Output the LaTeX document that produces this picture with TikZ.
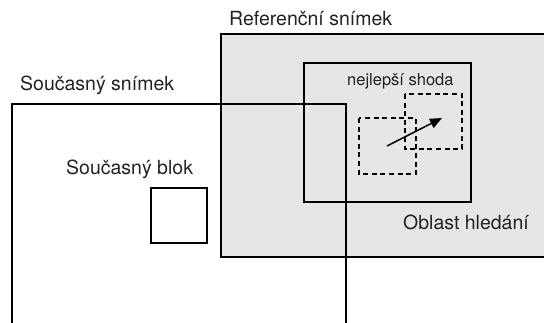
\documentclass[tikz,border=0pt]{standalone}
\usepackage{fontspec}
\setmainfont{TeX Gyre Heros}
\usetikzlibrary{arrows.meta}
\definecolor{areagray}{HTML}{E6E6E6}
\definecolor{txt}{HTML}{222222}
\tikzset{
  frame/.style={line width=2.2pt, line join=miter},
  thinbox/.style={line width=1.1pt},
  dashbox/.style={line width=1.2pt, dash pattern=on 5pt off 3.6pt},
  lbl/.style={inner sep=0pt, anchor=base west, text=txt, font=\fontsize{19.5}{22}\selectfont},
  smalllbl/.style={inner sep=0pt, anchor=base west, text=txt, font=\fontsize{16.5}{19}\selectfont},
}
\begin{document}
\begin{tikzpicture}[x=1pt,y=-1pt]
\useasboundingbox (0,0) rectangle (544,323);
\clip (0,0) rectangle (544,323);
% reference frame
\draw[frame, fill=areagray] (221,34) rectangle (550,257);
% search area
\draw[thinbox] (304,63) rectangle (471,202);
% dashed blocks
\draw[dashbox] (359,118) rectangle (416,174);
\draw[dashbox] (405,94) rectangle (462,149);
% motion vector
\coordinate (mvs) at (387,146);
\coordinate (mve) at (442,118);
\draw[line width=1.5pt, -{Triangle[length=12pt,width=10pt]}] (mvs) -- (mve);
% current frame
\draw[frame] (12,330) -- (12,104) -- (346,104) -- (346,330);
% current block
\draw[frame] (151,188) rectangle (207,243);
% labels
\node[lbl] (reflbl) at (229,26) {Referenční snímek};
\node[lbl] (curlbl) at (20,91) {Současný snímek};
\node[lbl] (blklbl) at (66,175) {Současný blok};
\node[smalllbl] (bestlbl) at (347,86) {nejlepší shoda};
\node[lbl] (searchlbl) at (403,230) {Oblast hledání};
\end{tikzpicture}
\end{document}
